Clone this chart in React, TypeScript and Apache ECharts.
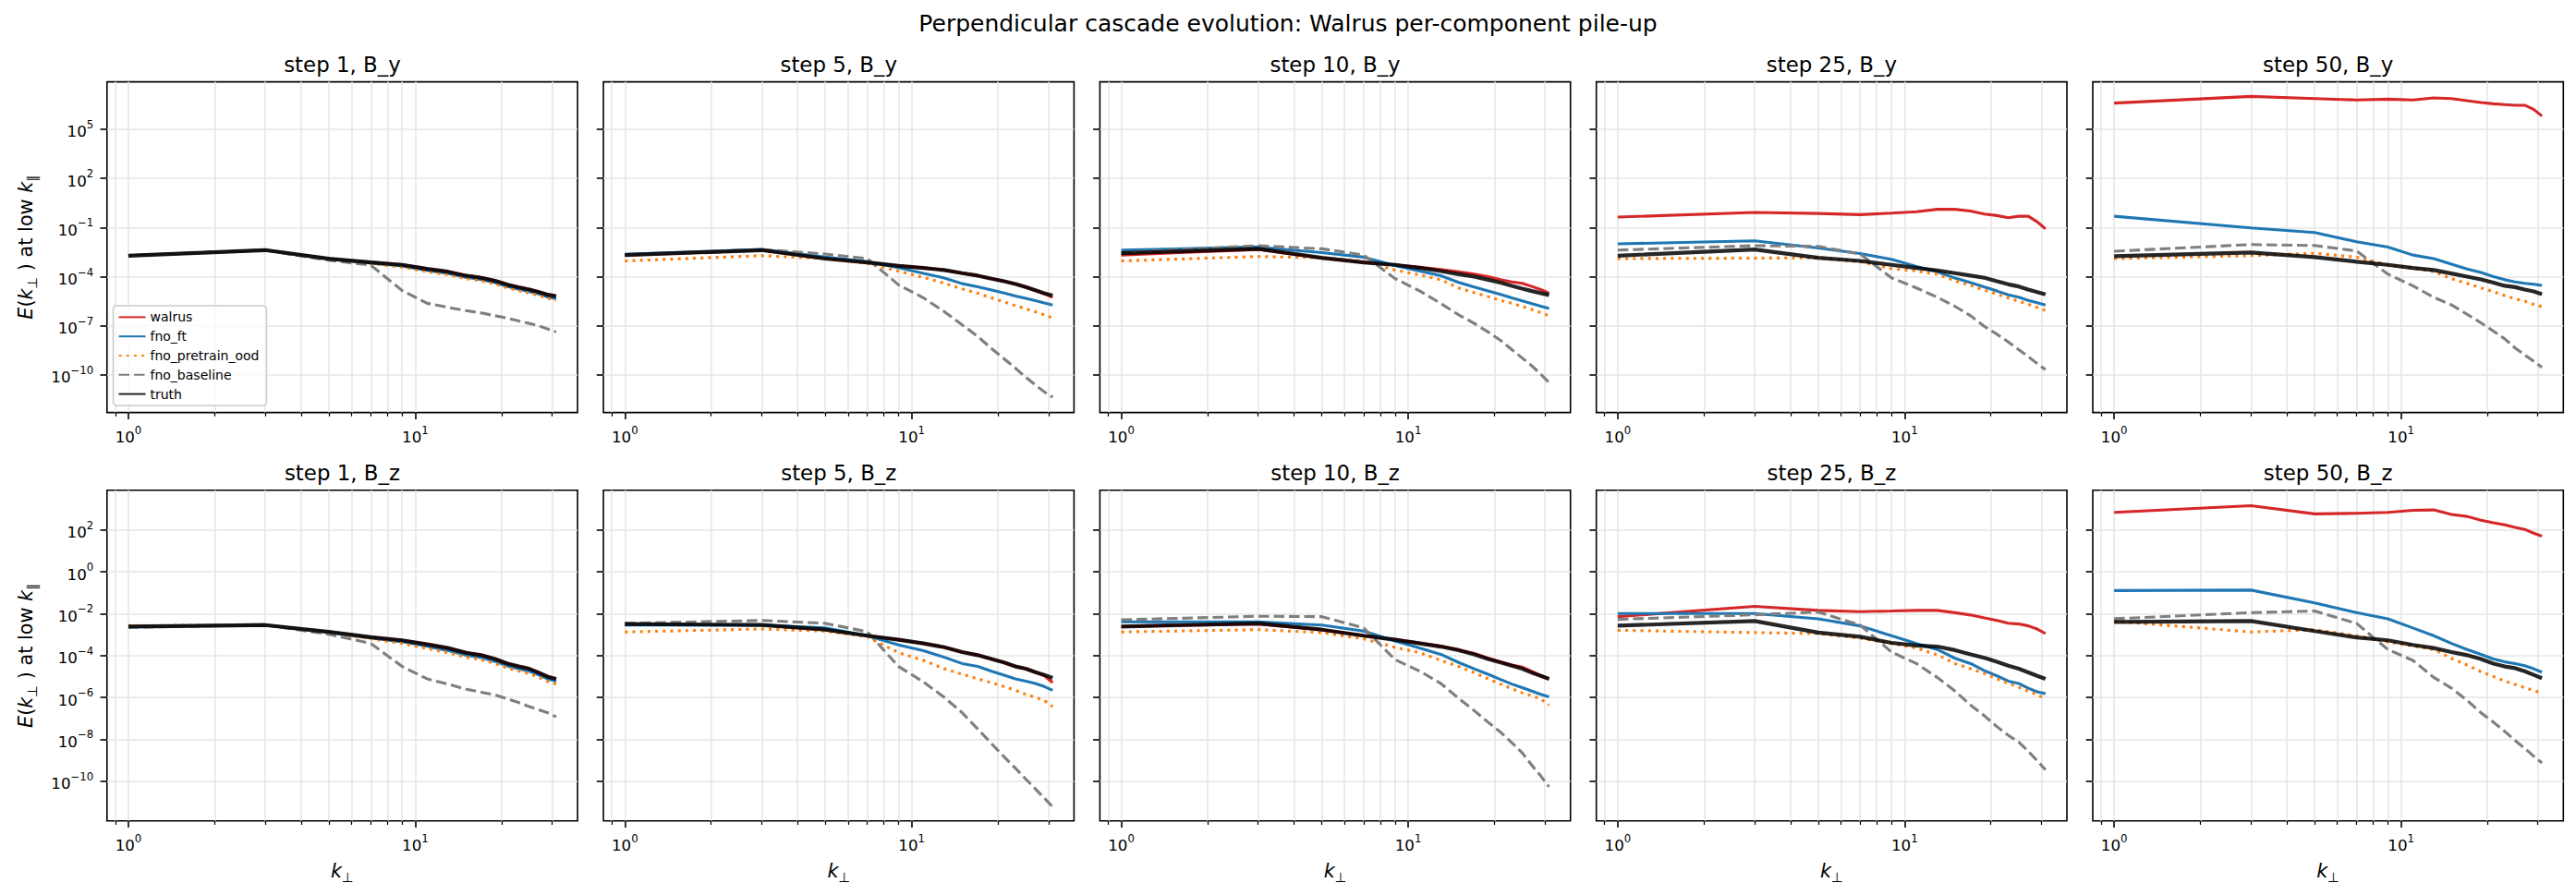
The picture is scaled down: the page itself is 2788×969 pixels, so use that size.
import React, { useEffect, useRef } from "react";
import * as echarts from "echarts";

// Perpendicular wavenumber bins (bin centres)
const K_PERP = [1, 3, 5, 7, 9, 11, 13, 15, 17, 19, 21, 23, 25, 27, 29, 31];
const STEPS = [1, 5, 10, 25, 50];
const COMPONENTS = ["B_y", "B_z"];
const MODELS = ["walrus", "fno_ft", "fno_pretrain_ood", "fno_baseline", "truth"];

// log10 E(k_perp) at low k_par. One row per entry of STEPS, one value per K_PERP bin.
const WALRUS_BY = [
  [-2.72, -2.38, -2.9, -3.12, -3.27, -3.52, -3.69, -3.93, -4.06, -4.25, -4.48, -4.64, -4.78, -4.93, -5.09, -5.18],
  [-2.69, -2.39, -2.9, -3.13, -3.34, -3.47, -3.6, -3.79, -3.94, -4.13, -4.28, -4.45, -4.65, -4.85, -5.05, -5.26],
  [-2.68, -2.34, -2.87, -3.13, -3.28, -3.43, -3.56, -3.7, -3.85, -4.0, -4.19, -4.32, -4.41, -4.6, -4.79, -5.01],
  [-0.36, -0.08, -0.14, -0.21, -0.12, -0.04, 0.11, 0.11, 0.01, -0.18, -0.27, -0.4, -0.31, -0.31, -0.65, -1.08],
  [6.6, 7.01, 6.88, 6.79, 6.84, 6.79, 6.92, 6.88, 6.75, 6.64, 6.56, 6.51, 6.47, 6.47, 6.22, 5.81],
];
const FNO_FT_BY = [
  [-2.72, -2.38, -2.91, -3.16, -3.35, -3.62, -3.8, -4.04, -4.18, -4.37, -4.61, -4.77, -4.91, -5.06, -5.24, -5.35],
  [-2.64, -2.34, -2.81, -3.09, -3.45, -3.8, -4.08, -4.43, -4.62, -4.82, -5.0, -5.18, -5.33, -5.47, -5.61, -5.73],
  [-2.38, -2.19, -2.53, -2.81, -3.32, -3.66, -3.94, -4.35, -4.64, -4.88, -5.09, -5.3, -5.48, -5.65, -5.8, -5.95],
  [-2.0, -1.81, -2.25, -2.59, -2.94, -3.38, -3.71, -4.09, -4.37, -4.64, -4.88, -5.11, -5.26, -5.45, -5.6, -5.73],
  [-0.31, -1.02, -1.31, -1.87, -2.19, -2.68, -2.9, -3.24, -3.53, -3.75, -4.0, -4.19, -4.32, -4.41, -4.47, -4.54],
];
const FNO_PRETRAIN_BY = [
  [-2.73, -2.39, -2.93, -3.2, -3.42, -3.7, -3.88, -4.12, -4.26, -4.45, -4.7, -4.86, -5.0, -5.15, -5.33, -5.45],
  [-3.04, -2.72, -2.9, -3.19, -3.66, -4.05, -4.4, -4.75, -5.02, -5.3, -5.55, -5.77, -5.97, -6.15, -6.33, -6.52],
  [-3.04, -2.77, -2.85, -3.06, -3.6, -3.9, -4.19, -4.69, -4.98, -5.22, -5.45, -5.63, -5.82, -6.01, -6.2, -6.39],
  [-2.9, -2.87, -2.85, -3.09, -3.51, -3.66, -3.85, -4.26, -4.54, -4.83, -5.07, -5.31, -5.5, -5.69, -5.88, -6.07],
  [-2.9, -2.72, -2.57, -2.81, -3.28, -3.47, -3.69, -4.13, -4.41, -4.69, -4.92, -5.16, -5.35, -5.5, -5.69, -5.84],
];
const FNO_BASELINE_BY = [
  [-2.73, -2.39, -3.0, -3.3, -4.85, -5.63, -5.88, -6.07, -6.22, -6.39, -6.54, -6.71, -6.86, -7.01, -7.2, -7.38],
  [-2.68, -2.34, -2.62, -2.9, -4.5, -5.3, -6.14, -6.95, -7.65, -8.4, -9.02, -9.59, -10.15, -10.62, -11.04, -11.37],
  [-2.53, -2.11, -2.3, -2.68, -4.12, -4.88, -5.64, -6.33, -6.86, -7.38, -7.89, -8.46, -8.97, -9.45, -9.96, -10.47],
  [-2.38, -2.11, -2.15, -2.62, -4.07, -4.69, -5.26, -5.82, -6.39, -7.05, -7.52, -7.99, -8.46, -8.89, -9.31, -9.68],
  [-2.45, -2.04, -2.1, -2.43, -3.85, -4.56, -5.26, -5.73, -6.3, -6.82, -7.33, -7.8, -8.36, -8.78, -9.17, -9.55],
];
const TRUTH_BY = [
  [-2.72, -2.38, -2.905, -3.13, -3.28, -3.53, -3.7, -3.94, -4.07, -4.26, -4.5, -4.66, -4.79, -4.94, -5.11, -5.2],
  [-2.68, -2.38, -2.9, -3.13, -3.34, -3.47, -3.6, -3.79, -3.94, -4.13, -4.28, -4.45, -4.64, -4.83, -5.01, -5.16],
  [-2.57, -2.3, -2.85, -3.13, -3.28, -3.47, -3.66, -3.85, -4.0, -4.19, -4.37, -4.56, -4.73, -4.88, -5.01, -5.13],
  [-2.72, -2.34, -2.85, -3.04, -3.28, -3.47, -3.62, -3.79, -3.94, -4.07, -4.28, -4.47, -4.6, -4.79, -4.94, -5.09],
  [-2.75, -2.53, -2.81, -3.09, -3.28, -3.47, -3.6, -3.81, -4.0, -4.17, -4.37, -4.56, -4.64, -4.79, -4.9, -5.07],
];

const WALRUS_BZ = [
  [-2.61, -2.54, -2.87, -3.12, -3.27, -3.46, -3.64, -3.86, -3.98, -4.16, -4.38, -4.52, -4.63, -4.82, -5.01, -5.11],
  [-2.49, -2.54, -2.76, -3.05, -3.24, -3.42, -3.6, -3.83, -3.98, -4.16, -4.33, -4.52, -4.63, -4.79, -4.96, -5.29],
  [-2.61, -2.49, -2.76, -3.05, -3.22, -3.4, -3.55, -3.72, -3.9, -4.12, -4.3, -4.45, -4.55, -4.76, -4.95, -5.11],
  [-2.14, -1.65, -1.84, -1.9, -1.87, -1.84, -1.84, -1.95, -2.06, -2.2, -2.32, -2.45, -2.49, -2.58, -2.73, -2.95],
  [2.84, 3.16, 2.77, 2.8, 2.84, 2.94, 2.96, 2.74, 2.65, 2.47, 2.35, 2.25, 2.13, 2.03, 1.85, 1.71],
];
const FNO_FT_BZ = [
  [-2.61, -2.54, -2.88, -3.16, -3.34, -3.56, -3.76, -3.98, -4.1, -4.28, -4.5, -4.64, -4.75, -4.93, -5.12, -5.22],
  [-2.54, -2.54, -2.68, -3.05, -3.49, -3.77, -4.08, -4.38, -4.52, -4.75, -4.94, -5.11, -5.22, -5.33, -5.48, -5.66],
  [-2.39, -2.39, -2.54, -2.83, -3.3, -3.64, -3.94, -4.33, -4.63, -4.89, -5.14, -5.36, -5.53, -5.7, -5.85, -5.97],
  [-1.99, -1.99, -2.24, -2.58, -3.05, -3.42, -3.71, -4.13, -4.38, -4.72, -4.97, -5.22, -5.33, -5.56, -5.73, -5.82],
  [-0.89, -0.87, -1.48, -1.95, -2.24, -2.68, -3.05, -3.42, -3.71, -3.94, -4.16, -4.3, -4.38, -4.48, -4.63, -4.79],
];
const FNO_PRETRAIN_BZ = [
  [-2.57, -2.54, -2.9, -3.2, -3.42, -3.66, -3.86, -4.08, -4.2, -4.38, -4.6, -4.74, -4.86, -5.04, -5.24, -5.36],
  [-2.87, -2.73, -2.83, -3.1, -3.86, -4.23, -4.63, -4.89, -5.11, -5.3, -5.48, -5.66, -5.85, -6.0, -6.14, -6.44],
  [-2.87, -2.76, -2.9, -3.2, -3.61, -3.86, -4.23, -4.52, -4.82, -5.11, -5.36, -5.58, -5.78, -5.92, -6.07, -6.37],
  [-2.79, -2.9, -2.95, -3.17, -3.42, -3.64, -3.96, -4.38, -4.63, -4.86, -5.11, -5.33, -5.51, -5.7, -5.88, -6.04],
  [-2.36, -2.87, -2.76, -3.05, -3.35, -3.54, -3.71, -4.13, -4.45, -4.77, -5.0, -5.22, -5.38, -5.53, -5.66, -5.81],
];
const FNO_BASELINE_BZ = [
  [-2.65, -2.54, -2.98, -3.42, -4.52, -5.11, -5.36, -5.6, -5.75, -5.88, -6.07, -6.25, -6.44, -6.59, -6.73, -6.93],
  [-2.46, -2.32, -2.46, -2.86, -4.52, -5.26, -6.0, -6.73, -7.51, -8.21, -8.84, -9.38, -9.9, -10.37, -10.81, -11.23],
  [-2.29, -2.12, -2.14, -2.68, -4.19, -4.75, -5.33, -6.04, -6.63, -7.18, -7.66, -8.16, -8.65, -9.24, -9.75, -10.27],
  [-2.27, -2.05, -1.92, -2.54, -3.83, -4.38, -5.04, -5.7, -6.37, -6.88, -7.4, -7.81, -8.13, -8.57, -9.02, -9.46],
  [-2.24, -1.95, -1.87, -2.46, -3.71, -4.23, -5.04, -5.56, -6.14, -6.73, -7.18, -7.62, -8.06, -8.43, -8.8, -9.13],
];
const TRUTH_BZ = [
  [-2.61, -2.54, -2.87, -3.12, -3.27, -3.46, -3.64, -3.86, -3.98, -4.16, -4.38, -4.52, -4.63, -4.82, -5.01, -5.11],
  [-2.49, -2.54, -2.76, -3.05, -3.24, -3.42, -3.6, -3.83, -3.98, -4.16, -4.33, -4.52, -4.63, -4.79, -4.92, -5.07],
  [-2.61, -2.46, -2.76, -3.05, -3.24, -3.42, -3.57, -3.74, -3.94, -4.16, -4.33, -4.48, -4.63, -4.82, -4.97, -5.11],
  [-2.57, -2.35, -2.9, -3.1, -3.39, -3.52, -3.57, -3.74, -3.94, -4.11, -4.3, -4.48, -4.63, -4.8, -4.97, -5.11],
  [-2.39, -2.35, -2.83, -3.13, -3.27, -3.49, -3.64, -3.83, -3.98, -4.16, -4.38, -4.52, -4.6, -4.75, -4.92, -5.08],
];

const X_MAJOR_TICKS = [1, 10];
const X_MINOR_TICKS = [0.9, 2, 3, 4, 5, 6, 7, 8, 9, 20, 30];
const Y_TICKS_BY = [1e-10, 1e-7, 1e-4, 1e-1, 1e2, 1e5];
const Y_TICKS_BZ = [1e-10, 1e-8, 1e-6, 1e-4, 1e-2, 1, 1e2];

const DATA_BY_ROW = [
  [WALRUS_BY, FNO_FT_BY, FNO_PRETRAIN_BY, FNO_BASELINE_BY, TRUTH_BY],
  [WALRUS_BZ, FNO_FT_BZ, FNO_PRETRAIN_BZ, FNO_BASELINE_BZ, TRUTH_BZ],
];

// Axis extents (log10 limits with the usual 5% padding)
const X_LIMITS = [10 ** -0.0746, 10 ** 1.566];
const Y_LIMITS = [
  [10 ** -12.3, 10 ** 7.9],
  [10 ** -11.9, 10 ** 3.9],
];
const Y_TICKS = [Y_TICKS_BY, Y_TICKS_BZ];

const FONT = "DejaVu Sans";
const WIDTH = 2788;
const HEIGHT = 969;
const PANEL_LEFT = 115.8;
const PANEL_STEP = 537.3;
const PANEL_W = 509.3;
const PANEL_TOP = [88.6, 530.8];
const PANEL_H = 358;

const LINE_STYLES: Record<string, any> = {
  walrus: { color: "#d62728", width: 3.1, type: "solid" },
  fno_ft: { color: "#1f77b4", width: 3.1, type: "solid" },
  fno_pretrain_ood: { color: "#ff7f0e", width: 3.1, type: [3.1, 5.1] },
  fno_baseline: { color: "#7f7f7f", width: 3.1, type: [11.5, 5] },
  truth: { color: "#000000", width: 4.2, type: "solid", opacity: 0.85 },
};

// Tick labels rendered as 10 with a raised, smaller exponent
const powerLabel = (v: number) => {
  const e = Math.round(Math.log10(v));
  return `{b|10}{e|${e < 0 ? "−" + -e : e}}`;
};
const POWER_RICH = {
  b: { fontFamily: FONT, fontSize: 16.7, lineHeight: 22, verticalAlign: "bottom", color: "#000" },
  e: { fontFamily: FONT, fontSize: 11.7, lineHeight: 17, verticalAlign: "top", color: "#000" },
};

const MATH_RICH = {
  i: { fontFamily: FONT, fontStyle: "italic", fontSize: 20.8, lineHeight: 28, color: "#000" },
  s: { fontFamily: FONT, fontSize: 14.6, lineHeight: 16, verticalAlign: "bottom", color: "#000" },
};

function buildOption() {
  const grids: any[] = [];
  const xAxes: any[] = [];
  const minorXAxes: any[] = [];
  const yAxes: any[] = [];
  const series: any[] = [];
  const titles: any[] = [
    {
      text: "Perpendicular cascade evolution: Walrus per-component pile-up",
      left: WIDTH / 2,
      top: 12.5,
      textAlign: "center",
      padding: 0,
      textStyle: { fontFamily: FONT, fontSize: 25, fontWeight: "normal", color: "#000" },
    },
  ];

  COMPONENTS.forEach((comp, row) => {
    STEPS.forEach((step, col) => {
      const g = row * STEPS.length + col;
      const left = PANEL_LEFT + col * PANEL_STEP;
      grids.push({
        left,
        top: PANEL_TOP[row],
        width: PANEL_W,
        height: PANEL_H,
        show: true,
        borderColor: "#000",
        borderWidth: 1.6,
        backgroundColor: "transparent",
        containLabel: false,
      });
      titles.push({
        text: `step ${step}, ${comp}`,
        left: left + PANEL_W / 2,
        top: PANEL_TOP[row] - 30.4,
        textAlign: "center",
        padding: 0,
        textStyle: { fontFamily: FONT, fontSize: 22.9, fontWeight: "normal", color: "#000" },
      });
      xAxes.push({
        type: "log",
        logBase: 10,
        gridIndex: g,
        position: "bottom",
        min: X_LIMITS[0],
        max: X_LIMITS[1],
        axisLine: { show: false },
        axisTick: {
          show: true,
          length: 7.3,
          customValues: X_MAJOR_TICKS,
          lineStyle: { color: "#000", width: 1.6 },
        },
        axisLabel: {
          show: true,
          customValues: X_MAJOR_TICKS,
          formatter: powerLabel,
          margin: 13,
          rich: POWER_RICH,
        },
        splitLine: { show: true, lineStyle: { color: "#e6e6e6", width: 1.6 } },
        minorTick: { show: false },
        minorSplitLine: { show: false },
        ...(row === 1
          ? {
              name: "{i|k}{s|⊥}",
              nameLocation: "middle",
              nameGap: 40,
              nameTextStyle: { fontFamily: FONT, fontSize: 20.8, lineHeight: 28, color: "#000", rich: MATH_RICH },
            }
          : {}),
      });
      minorXAxes.push({
        type: "log",
        logBase: 10,
        gridIndex: g,
        position: "bottom",
        min: X_LIMITS[0],
        max: X_LIMITS[1],
        axisLine: { show: false },
        axisTick: {
          show: true,
          length: 4.2,
          customValues: X_MINOR_TICKS,
          lineStyle: { color: "#000", width: 1.25 },
        },
        axisLabel: { show: false },
        splitLine: { show: true, lineStyle: { color: "#e6e6e6", width: 1.6 } },
        minorTick: { show: false },
        minorSplitLine: { show: false },
      });
      yAxes.push({
        type: "log",
        logBase: 10,
        gridIndex: g,
        position: "left",
        min: Y_LIMITS[row][0],
        max: Y_LIMITS[row][1],
        axisLine: { show: false },
        axisTick: {
          show: true,
          length: 7.3,
          customValues: Y_TICKS[row],
          lineStyle: { color: "#000", width: 1.6 },
        },
        axisLabel: {
          show: col === 0,
          customValues: Y_TICKS[row],
          formatter: powerLabel,
          margin: 14.6,
          rich: POWER_RICH,
        },
        splitLine: { show: true, lineStyle: { color: "#e6e6e6", width: 1.6 } },
        minorTick: { show: false },
        minorSplitLine: { show: false },
        ...(col === 0
          ? {
              name: "{i|E}({i|k}{s|⊥} ) at low {i|k}{s|∥}",
              nameLocation: "middle",
              nameRotate: 90,
              nameGap: 74,
              nameTextStyle: { fontFamily: FONT, fontSize: 20.8, lineHeight: 28, color: "#000", rich: MATH_RICH },
            }
          : {}),
      });

      MODELS.forEach((model, m) => {
        const logs = DATA_BY_ROW[row][m][col];
        const st = LINE_STYLES[model];
        series.push({
          type: "line",
          name: model,
          xAxisIndex: g,
          yAxisIndex: g,
          data: K_PERP.map((k, j) => [k, Math.pow(10, logs[j])]),
          showSymbol: false,
          symbol: "none",
          silent: true,
          color: st.color,
          itemStyle: { color: st.color },
          lineStyle: { color: st.color, width: st.width, type: st.type, opacity: st.opacity ?? 1 },
          emphasis: { disabled: true },
          z: 2 + m * 0.1,
        });
      });
    });
  });

  return {
    animation: false,
    backgroundColor: "#ffffff",
    textStyle: { fontFamily: FONT },
    title: titles,
    grid: grids,
    xAxis: [...xAxes, ...minorXAxes],
    yAxis: yAxes,
    legend: {
      data: MODELS,
      orient: "vertical",
      left: 122.5,
      top: 331,
      padding: [5.4, 8, 5.4, 5],
      itemWidth: 29,
      itemHeight: 14,
      itemGap: 6.8,
      selectedMode: false,
      backgroundColor: "rgba(255,255,255,0.8)",
      borderColor: "#cccccc",
      borderWidth: 1.6,
      borderRadius: 4,
      itemStyle: { opacity: 0 },
      textStyle: { fontFamily: FONT, fontSize: 14, color: "#000" },
    },
    series,
  };
}

export default function App() {
  const ref = useRef<HTMLDivElement>(null);
  useEffect(() => {
    if (!ref.current) return;
    const chart = echarts.init(ref.current, null, { renderer: "svg", width: WIDTH, height: HEIGHT });
    chart.setOption(buildOption() as any);
    return () => chart.dispose();
  }, []);
  return (
    <div
      ref={ref}
      style={{ position: "fixed", left: 0, top: 0, width: WIDTH, height: HEIGHT, background: "#fff" }}
    />
  );
}
